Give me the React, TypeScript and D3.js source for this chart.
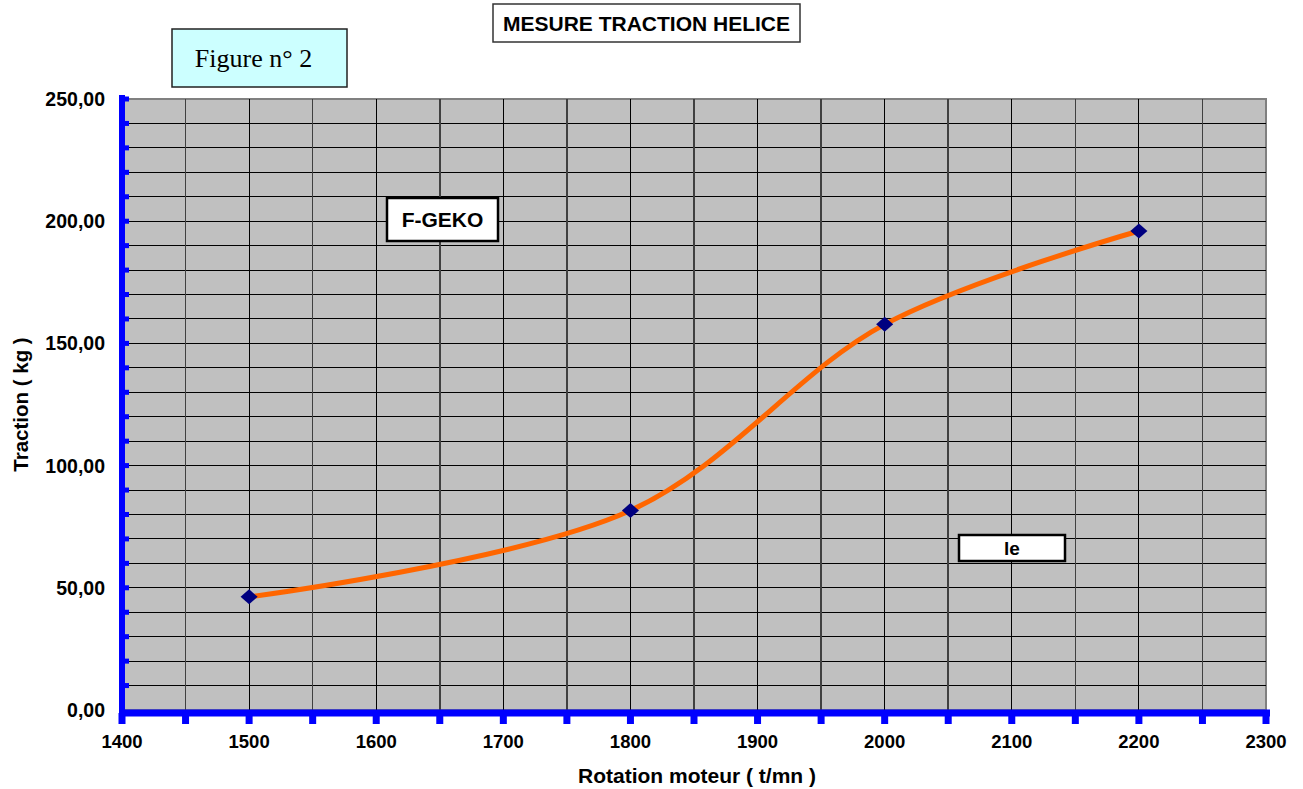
import React, { useEffect, useRef } from "react";
import * as d3 from "d3";

const rpm = [1500, 1800, 2000, 2200];
const traction = [46.3, 81.6, 157.8, 196.0];
const xTicks = [1400, 1500, 1600, 1700, 1800, 1900, 2000, 2100, 2200, 2300];
const yTicks = [0, 50, 100, 150, 200, 250];

export default function App() {
  const svgRef = useRef<SVGSVGElement | null>(null);

  useEffect(() => {
    if (!svgRef.current) return;
    document.body.style.margin = "0";
    const width = 1303;
    const height = 789;
    const margin = { top: 99, right: 37, bottom: 79, left: 122 };

    const svg = d3.select(svgRef.current);
    svg.selectAll("*").remove();
    svg.attr("width", width).attr("height", height).style("display", "block");

    const x = d3.scaleLinear().domain([1400, 2300]).range([margin.left, width - margin.right]);
    const y = d3.scaleLinear().domain([0, 250]).range([height - margin.bottom, margin.top]);
    const font = "Arial, 'Liberation Sans', sans-serif";

    // plot background
    svg
      .append("rect")
      .attr("x", x(1400))
      .attr("y", y(250))
      .attr("width", x(2300) - x(1400))
      .attr("height", y(0) - y(250))
      .attr("fill", "#c0c0c0")
      .attr("stroke", "#808080")
      .attr("stroke-width", 2);

    // grid
    svg
      .append("g")
      .selectAll("line")
      .data(d3.range(10, 250, 10))
      .join("line")
      .attr("x1", x(1400))
      .attr("x2", x(2300))
      .attr("y1", (d) => y(d))
      .attr("y2", (d) => y(d))
      .attr("stroke", "#000")
      .attr("stroke-width", 1)
      .attr("shape-rendering", "crispEdges");

    svg
      .append("g")
      .selectAll("line")
      .data(d3.range(1450, 2300, 50))
      .join("line")
      .attr("x1", (d) => x(d))
      .attr("x2", (d) => x(d))
      .attr("y1", y(0))
      .attr("y2", y(250))
      .attr("stroke", (d) => (d % 100 === 0 ? "#000" : "#404040"))
      .attr("stroke-width", (d) => (d % 100 === 0 ? 1 : 1.5))
      .attr("shape-rendering", "crispEdges");

    // blue axes
    const blue = "#0000ff";
    svg
      .append("line")
      .attr("x1", x(1400))
      .attr("x2", x(1400))
      .attr("y1", y(0) + 2)
      .attr("y2", y(250) - 4)
      .attr("stroke", blue)
      .attr("stroke-width", 6);
    svg
      .append("g")
      .selectAll("rect")
      .data(d3.range(10, 260, 10))
      .join("rect")
      .attr("x", x(1400))
      .attr("y", (d) => y(d) - 2.5)
      .attr("width", 7)
      .attr("height", 5)
      .attr("fill", blue);

    svg
      .append("line")
      .attr("x1", x(1400) - 3)
      .attr("x2", x(2300) + 4)
      .attr("y1", y(0) + 3)
      .attr("y2", y(0) + 3)
      .attr("stroke", blue)
      .attr("stroke-width", 7);
    svg
      .append("g")
      .selectAll("rect")
      .data(d3.range(1400, 2350, 50))
      .join("rect")
      .attr("x", (d) => x(d) - 3.5)
      .attr("y", y(0) + 3)
      .attr("width", 7)
      .attr("height", 11)
      .attr("fill", blue);

    // tick labels
    svg
      .append("g")
      .selectAll("text")
      .data(yTicks)
      .join("text")
      .attr("x", 105)
      .attr("y", (d) => y(d) + 7)
      .attr("text-anchor", "end")
      .attr("font-family", font)
      .attr("font-weight", "bold")
      .attr("font-size", 19.5)
      .text((d) => d3.format(".2f")(d).replace(".", ","));

    svg
      .append("g")
      .selectAll("text")
      .data(xTicks)
      .join("text")
      .attr("x", (d) => x(d))
      .attr("y", y(0) + 38)
      .attr("text-anchor", "middle")
      .attr("font-family", font)
      .attr("font-weight", "bold")
      .attr("font-size", 18.5)
      .text((d) => d);

    // axis titles
    svg
      .append("text")
      .attr("transform", `translate(28,${(y(0) + y(250)) / 2}) rotate(-90)`)
      .attr("text-anchor", "middle")
      .attr("font-family", font)
      .attr("font-weight", "bold")
      .attr("font-size", 20.5)
      .text("Traction ( kg )");
    svg
      .append("text")
      .attr("x", 697)
      .attr("y", 783)
      .attr("text-anchor", "middle")
      .attr("font-family", font)
      .attr("font-weight", "bold")
      .attr("font-size", 21)
      .text("Rotation moteur ( t/mn )");

    // series line
    const pts = rpm.map((r, i) => [r, traction[i]] as [number, number]);
    const line = d3
      .line<[number, number]>()
      .x((d) => x(d[0]))
      .y((d) => y(d[1]))
      .curve(d3.curveCatmullRom.alpha(0.5));
    svg
      .append("path")
      .datum(pts)
      .attr("fill", "none")
      .attr("stroke", "#ff6600")
      .attr("stroke-width", 5)
      .attr("d", line);

    const diamond = d3.symbol().type(d3.symbolSquare).size(125);
    svg
      .append("g")
      .selectAll("path")
      .data(pts)
      .join("path")
      .attr("transform", (d) => `translate(${x(d[0])},${y(d[1])}) scale(1.08,0.95) rotate(45)`)
      .attr("d", diamond)
      .attr("fill", "#000080");

    // text boxes
    const box = (
      bx: number,
      by: number,
      bw: number,
      bh: number,
      label: string,
      opts: { fill: string; stroke: string; sw: number; size: number; family: string; weight: string; dx?: number }
    ) => {
      svg
        .append("rect")
        .attr("x", bx)
        .attr("y", by)
        .attr("width", bw)
        .attr("height", bh)
        .attr("fill", opts.fill)
        .attr("stroke", opts.stroke)
        .attr("stroke-width", opts.sw);
      svg
        .append("text")
        .attr("x", bx + bw / 2 + (opts.dx || 0))
        .attr("y", by + bh / 2)
        .attr("dy", "0.36em")
        .attr("text-anchor", "middle")
        .attr("font-family", opts.family)
        .attr("font-weight", opts.weight)
        .attr("font-size", opts.size)
        .text(label);
    };

    box(493, 4, 307, 38, "MESURE TRACTION HELICE", {
      fill: "#fff", stroke: "#333", sw: 1.5, size: 21, family: font, weight: "bold",
    });
    box(172, 29, 175, 58, "Figure n° 2", {
      fill: "#ccffff", stroke: "#222", sw: 1.5, size: 26, family: "'Times New Roman', 'Liberation Serif', serif", weight: "normal", dx: -6,
    });
    box(387, 198, 111, 43, "F-GEKO", {
      fill: "#fff", stroke: "#000", sw: 2.5, size: 21, family: font, weight: "bold",
    });
    box(959, 535, 106, 26, "le", {
      fill: "#fff", stroke: "#000", sw: 2.5, size: 19, family: font, weight: "bold",
    });
  }, []);

  return <svg ref={svgRef} />;
}
